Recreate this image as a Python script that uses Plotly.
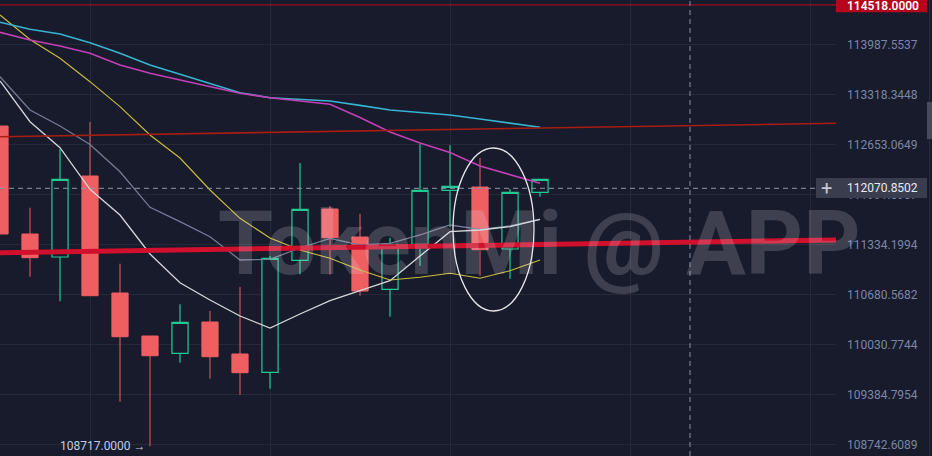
import math
import plotly.graph_objects as go

# ---------------- data ----------------
candle_idx = list(range(19))
opens  = [112896.1, 111469.3, 111167.7, 112233.3, 110697.5, 110138.3, 109914.2, 110320.0, 109905.1, 109668.4,
          111124.6, 111797.9, 111429.9, 110745.7, 111334.2, 112044.3, 112088.0, 111272.6, 112018.1]
highs  = [112896.1, 111815.0, 112586.8, 112949.3, 111080.0, 110138.3, 110550.3, 110463.0, 110775.6, 111180.9,
          112405.2, 111837.4, 111736.0, 111420.7, 112653.1, 112639.9, 112471.5, 112061.6, 112189.7]
lows   = [111469.3, 110910.2, 110589.3, 110662.2, 109289.4, 108717.0, 109792.5, 109585.6, 109375.8, 109456.8,
          110941.5, 110936.1, 110662.2, 110388.9, 111049.9, 111561.3, 110923.2, 110883.9, 111960.0]
closes = [111469.3, 111158.6, 112189.7, 110662.2, 110129.2, 109883.1, 110316.2, 109870.1, 109663.3, 111150.8,
          111794.0, 111420.7, 110723.5, 111334.2, 112044.3, 112097.2, 111263.3, 112018.1, 112189.7]

ma_yellow = [114381.5, 114052.0, 113799.8, 113486.6, 113153.0, 112776.5, 112471.5, 112048.4, 111675.6, 111416.8,
             111259.4, 111150.8, 110997.7, 110867.1, 110902.4, 110954.6, 110889.4, 110988.6, 111128.6]
ma_white = [113496.0, 112953.3, 112608.0, 112057.7, 111719.0, 111207.0, 110831.9, 110606.4, 110398.1, 110242.2,
            110424.1, 110597.2, 110727.5, 110857.9, 111180.9, 111499.5, 111521.8, 111565.2, 111662.5]
ma_gray = [113553.5, 113109.0, 112896.1, 112650.4, 112290.1, 111820.4, 111630.9, 111433.9, 111128.6, 111137.7,
           111285.7, 111412.9, 111325.0, 111347.4, 111456.2, 111587.5, 111531.0, 111574.4, 111662.5]
ma_cyan = [114283.3, 114189.1, 114125.9, 114009.0, 113866.8, 113710.0, 113585.5, 113459.9, 113339.7, 113273.0,
           113251.6, 113228.9, 113170.3, 113109.0, 113075.7, 113042.4, 112989.2, 112934.6, 112878.8]
ma_magenta = [114148.8, 114045.3, 113964.7, 113866.8, 113710.0, 113598.9, 113509.4, 113415.8, 113331.7, 113273.0,
              113228.9, 113184.9, 113009.2, 112816.4, 112670.4, 112544.4, 112365.6, 112246.6, 112136.9]

trend_x = [0, 27.8667]
trend_thin_y = [112753.9, 112932.0]
trend_thick_y = [111224.0, 111390.6]

high_mark = 114518.0
last_price = 112070.8502
low_mark = 108717.0

tick_vals = [113987.5537, 113318.3448, 112653.0649, 111991.0907, 111334.1994,
             110680.5682, 110030.7744, 109384.7954, 108742.6089]
tick_text = ["113987.5537", "113318.3448", "112653.0649", "111991.0907", "111334.1994",
             "110680.5682", "110030.7744", "109384.7954", "108742.6089"]

# ---------------- style ----------------
BG = "#181b2b"
GRID = "#252938"
RED = "#ef5f62"
GREEN = "#23c995"
W, H = 932, 456
PLOT_W = 836
Y_LO, Y_HI = 108592.9, 114583.8
LOG_LO, LOG_HI = math.log10(Y_LO), math.log10(Y_HI)


def py(v):
    """paper y of a price"""
    return (math.log10(v) - LOG_LO) / (LOG_HI - LOG_LO)


def ppx(px):
    return px / PLOT_W


def ppy(px):
    return 1 - px / H


fig = go.Figure()

fig.add_trace(go.Candlestick(
    x=candle_idx, open=opens, high=highs, low=lows, close=closes,
    increasing=dict(line=dict(color=GREEN, width=1.2), fillcolor=BG),
    decreasing=dict(line=dict(color=RED, width=1), fillcolor=RED),
    whiskerwidth=0, hoverinfo="skip", showlegend=False))

for ys, col, wd in [(ma_yellow, "#cdbd3c", 1.1), (ma_gray, "#767b94", 1.3), (ma_white, "#d6d6dc", 1.3),
                    (ma_cyan, "#36b4cf", 1.6), (ma_magenta, "#c43fb6", 1.6)]:
    fig.add_trace(go.Scatter(x=candle_idx, y=ys, mode="lines", line=dict(color=col, width=wd),
                             hoverinfo="skip", showlegend=False))

fig.add_trace(go.Scatter(x=trend_x, y=[high_mark, high_mark], mode="lines",
                         line=dict(color="#9a0f1d", width=1.2), hoverinfo="skip", showlegend=False))
fig.add_trace(go.Scatter(x=trend_x, y=trend_thin_y, mode="lines",
                         line=dict(color="#a81d12", width=1.6), hoverinfo="skip", showlegend=False))
fig.add_trace(go.Scatter(x=trend_x, y=trend_thick_y, mode="lines",
                         line=dict(color="#d0102c", width=5), hoverinfo="skip", showlegend=False))
fig.add_trace(go.Scatter(x=[0, 27.2], y=[last_price, last_price], mode="lines",
                         line=dict(color="#9297aa", width=1, dash="5px,4px"), hoverinfo="skip", showlegend=False))

shapes = [
    # crosshair vertical
    dict(type="line", xref="x", yref="paper", x0=23, x1=23, y0=0, y1=1,
         line=dict(color="#8b90a3", width=1, dash="5px,4px"), layer="above"),
    # ellipse highlight
    dict(type="circle", xref="x", yref="paper", x0=15.1, x1=17.8, y0=ppy(311), y1=ppy(148),
         line=dict(color="#e6e6ea", width=1.3), layer="above"),
    # last price label box
    dict(type="rect", xref="paper", yref="paper", x0=ppx(816), x1=ppx(927), y0=ppy(198), y1=ppy(178),
         fillcolor="#393d4d", line=dict(width=0), layer="above"),
    # high label box
    dict(type="rect", xref="paper", yref="paper", x0=ppx(836), x1=ppx(927), y0=ppy(12.3), y1=1.0,
         fillcolor="#b6061e", line=dict(width=0), layer="above"),
    # right edge strip
    dict(type="line", xref="paper", yref="paper", x0=ppx(929.5), x1=ppx(929.5), y0=0, y1=1,
         line=dict(color="#2a2e3f", width=1), layer="above"),
    # side tab
    dict(type="rect", xref="paper", yref="paper", x0=ppx(927), x1=ppx(933), y0=ppy(139), y1=ppy(102),
         fillcolor="#454a5d", line=dict(width=0), layer="above"),
]

annotations = [
    dict(text="TokenMi @ APP", xref="paper", yref="paper", x=ppx(216), y=ppy(243),
         showarrow=False, xanchor="left", yanchor="middle",
         font=dict(family="Roboto", size=89, color="rgba(228,230,240,0.19)", weight=700)),
    dict(text="+", xref="paper", yref="paper", x=ppx(826), y=ppy(188), showarrow=False,
         xanchor="center", yanchor="middle", font=dict(family="Roboto", size=20, color="#c4c8d4")),
    dict(text="112070.8502", xref="paper", yref="paper", x=ppx(845), y=py(last_price), showarrow=False,
         xanchor="left", yanchor="middle", font=dict(family="Roboto", size=12, color="#e9ebf2")),
    dict(text="114518.0000", xref="paper", yref="paper", x=ppx(845), y=ppy(5.5), showarrow=False,
         xanchor="left", yanchor="middle", font=dict(family="Roboto", size=12, color="#ffffff", weight=600)),
    dict(text="108717.0000 →", xref="x", yref="paper", x=5, y=py(low_mark), xshift=-2, showarrow=False,
         xanchor="right", yanchor="middle", font=dict(family="Roboto", size=12, color="#c3cbe6")),
]

fig.update_layout(
    width=W, height=H, margin=dict(l=0, r=W - PLOT_W, t=0, b=0, pad=0),
    paper_bgcolor=BG, plot_bgcolor=BG, showlegend=False, boxgap=0.23,
    shapes=shapes, annotations=annotations,
    xaxis=dict(range=[0, PLOT_W / 30], showticklabels=False, showgrid=True, gridcolor=GRID, gridwidth=1,
               tick0=3, dtick=6, zeroline=False, showline=False, rangeslider=dict(visible=False),
               fixedrange=True),
    yaxis=dict(type="log", side="right", range=[LOG_LO, LOG_HI], tickvals=tick_vals, ticktext=tick_text,
               tickfont=dict(family="Roboto", size=12, color="#7c86a6"), showgrid=True, gridcolor=GRID,
               gridwidth=1, zeroline=False, showline=False, ticks="", ticklabelstandoff=10,
               automargin=False, fixedrange=True),
)

fig.write_html("out.html", config={"displayModeBar": False},
               post_script="document.body.style.margin='0';document.body.style.background='%s';" % BG)
